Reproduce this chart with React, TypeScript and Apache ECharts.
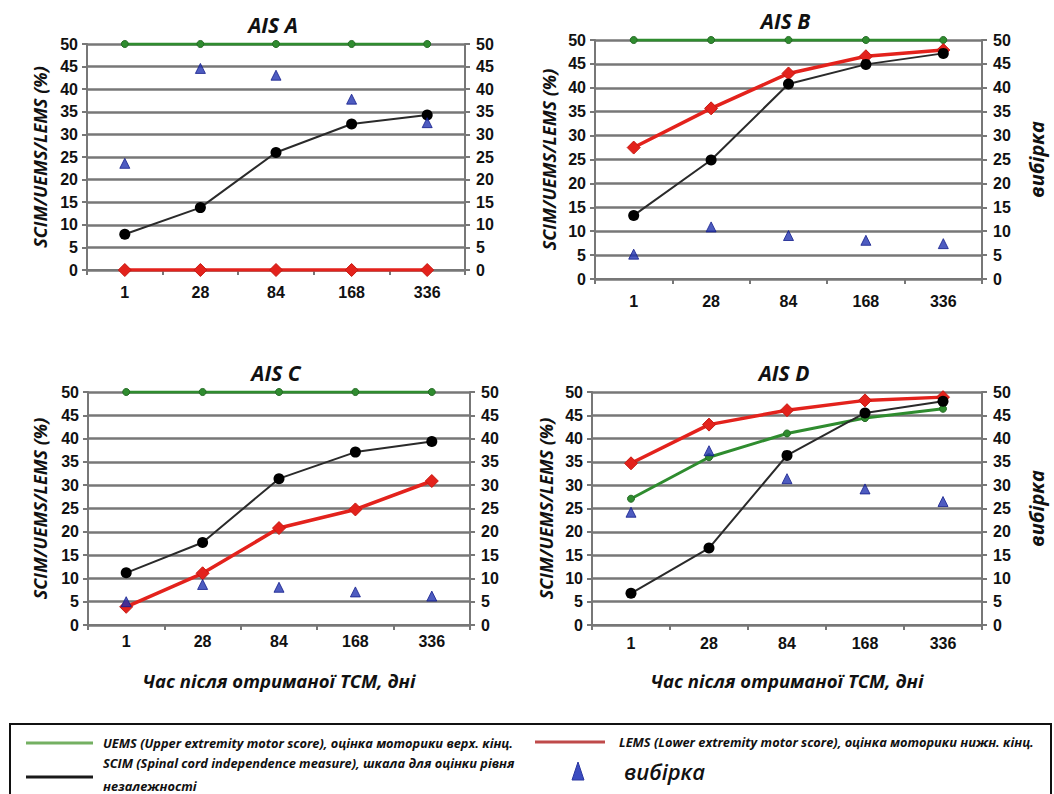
import React, { useEffect, useRef } from 'react';
import * as echarts from 'echarts';

const days = ['1', '28', '84', '168', '336'];
const panelTitles = ['AIS A', 'AIS B', 'AIS C', 'AIS D'];
const yTicks = { min: 0, max: 50, interval: 5 };

const uemsA = [50, 50, 50, 50, 50];
const lemsA = [0, 0, 0, 0, 0];
const scimA = [7.9, 13.8, 26, 32.3, 34.3];
const sampleA = [23.6, 44.6, 43.1, 37.8, 32.6];

const uemsB = [50, 50, 50, 50, 50];
const lemsB = [27.5, 35.7, 43, 46.6, 47.9];
const scimB = [13.3, 24.9, 40.8, 44.9, 47.2];
const sampleB = [5.2, 10.9, 9.1, 8.1, 7.4];

const uemsC = [50, 50, 50, 50, 50];
const lemsC = [3.9, 11.1, 20.8, 24.8, 30.9];
const scimC = [11.2, 17.7, 31.4, 37.1, 39.4];
const sampleC = [5, 8.7, 8.1, 7.1, 6.2];

const uemsD = [27.1, 36, 41.1, 44.4, 46.4];
const lemsD = [34.7, 43, 46.1, 48.2, 48.9];
const scimD = [6.8, 16.5, 36.4, 45.5, 48];
const sampleD = [24.2, 37.4, 31.4, 29.2, 26.5];

const yName = 'SCIM/UEMS/LEMS (%)';
const y2Name = 'вибірка';
const xName = 'Час після отриманої ТСМ, дні';

const legendUems = 'UEMS (Upper extremity motor score), оцінка моторики верх. кінц.';
const legendLems = 'LEMS (Lower extremity motor score), оцінка моторики нижн. кінц.';
const legendScim1 = 'SCIM (Spinal cord independence measure), шкала для оцінки рівня';
const legendScim2 = 'незалежності';
const legendSample = 'вибірка';

const panels = [
  { uems: uemsA, lems: lemsA, scim: scimA, sample: sampleA },
  { uems: uemsB, lems: lemsB, scim: scimB, sample: sampleB },
  { uems: uemsC, lems: lemsC, scim: scimC, sample: sampleC },
  { uems: uemsD, lems: lemsD, scim: scimD, sample: sampleD },
];

const gridBoxes = [
  { left: 87, top: 44, width: 378, height: 226 },
  { left: 595, top: 40, width: 387, height: 239 },
  { left: 88, top: 392, width: 382, height: 233 },
  { left: 592, top: 392, width: 390, height: 233 },
];
const xLabelMargins = [14, 14, 8, 10];
const yNameGaps = [38, 37, 39, 37];
const showRightName = [false, true, false, true];
const showXName = [false, false, true, true];

const GREEN = '#2f8c2f';
const RED = '#e3221c';
const BLACK = '#111111';
const BLUE = '#141e8c';
const GRIDC = '#777777';

const titleFont = '"Open Sans", sans-serif';
const tickFont = '"Liberation Sans", Arial, sans-serif';

export default function App() {
  const ref = useRef<HTMLDivElement>(null);
  useEffect(() => {
    if (!ref.current) return;
    const chart = echarts.init(ref.current, null, { renderer: 'svg' });
    const grid: any[] = [];
    const xAxis: any[] = [];
    const yAxis: any[] = [];
    const series: any[] = [];
    const graphic: any[] = [];

    gridBoxes.forEach((g, i) => {
      grid.push({ ...g, containLabel: false });
      xAxis.push({
        type: 'category',
        gridIndex: i,
        data: days,
        boundaryGap: true,
        axisLine: { lineStyle: { color: GRIDC, width: 2 } },
        axisTick: { show: true, length: 5, lineStyle: { color: GRIDC, width: 2 } },
        axisLabel: { color: BLACK, fontFamily: tickFont, fontWeight: 'bold', fontSize: 16, margin: xLabelMargins[i] },
        name: showXName[i] ? xName : '',
        nameLocation: 'middle',
        nameGap: 46,
        nameTextStyle: { fontFamily: titleFont, fontStyle: 'italic', fontWeight: 'bold', fontSize: 18.5, color: BLACK },
      });
      const baseY = {
        type: 'value',
        gridIndex: i,
        ...yTicks,
        axisLine: { show: true, lineStyle: { color: GRIDC, width: 2 } },
        axisTick: { show: true, length: 5, lineStyle: { color: GRIDC, width: 2 } },
        axisLabel: { color: BLACK, fontFamily: tickFont, fontWeight: 'bold', fontSize: 16 },
        nameLocation: 'middle',
        nameRotate: 90,
        nameTextStyle: { fontFamily: titleFont, fontStyle: 'italic', fontWeight: 'bold', fontSize: 18, color: BLACK },
      };
      yAxis.push({
        ...baseY,
        position: 'left',
        name: yName,
        nameGap: yNameGaps[i],
        axisLabel: { ...baseY.axisLabel, margin: 9 },
        splitLine: { show: true, lineStyle: { color: GRIDC, width: 2.5 } },
      });
      yAxis.push({
        ...baseY,
        position: 'right',
        name: showRightName[i] ? y2Name : '',
        nameGap: 44,
        nameTextStyle: { ...baseY.nameTextStyle, fontSize: 20 },
        axisLabel: { ...baseY.axisLabel, margin: 11 },
        splitLine: { show: false },
      });
      const p = panels[i];
      series.push({
        type: 'line', name: 'UEMS', xAxisIndex: i, yAxisIndex: i * 2, data: p.uems,
        lineStyle: { color: GREEN, width: 3 }, itemStyle: { color: GREEN, borderColor: '#256b25', borderWidth: 1 },
        symbol: 'circle', symbolSize: 7, z: 3,
      });
      series.push({
        type: 'line', name: 'LEMS', xAxisIndex: i, yAxisIndex: i * 2, data: p.lems,
        lineStyle: { color: RED, width: 3.5 }, itemStyle: { color: RED, borderColor: '#c81810', borderWidth: 1 },
        symbol: 'diamond', symbolSize: 13, z: 4,
      });
      series.push({
        type: 'line', name: 'SCIM', xAxisIndex: i, yAxisIndex: i * 2, data: p.scim,
        lineStyle: { color: '#2a2a2a', width: 2 }, itemStyle: { color: '#000' },
        symbol: 'circle', symbolSize: 11, z: 5,
      });
      series.push({
        type: 'scatter', name: 'вибірка', xAxisIndex: i, yAxisIndex: i * 2 + 1, data: p.sample,
        itemStyle: { color: '#2233b0', borderColor: BLUE, borderWidth: 1 },
        symbol: 'triangle', symbolSize: [10, 10], z: 6,
      });
      graphic.push({
        type: 'text',
        x: g.left + g.width / 2 - 3,
        y: g.top - 19,
        style: {
          text: panelTitles[i], fill: BLACK, textAlign: 'center', textVerticalAlign: 'middle',
          font: `italic bold 21px ${titleFont}`,
        },
      });
    });

    // Legend box
    const legendFontSmall = `italic bold 12.8px ${titleFont}`;
    graphic.push(
      { type: 'rect', shape: { x: 10, y: 724, width: 1041, height: 90 }, style: { fill: '#fff', stroke: '#111', lineWidth: 2 } },
      { type: 'line', shape: { x1: 26, y1: 743, x2: 93, y2: 743 }, style: { stroke: '#74b062', lineWidth: 3 } },
      { type: 'text', x: 103, y: 743, style: { text: legendUems, font: legendFontSmall, fill: BLACK, textVerticalAlign: 'middle' } },
      { type: 'line', shape: { x1: 535, y1: 742, x2: 605, y2: 742 }, style: { stroke: '#bf4a4a', lineWidth: 3 } },
      { type: 'text', x: 619, y: 742, style: { text: legendLems, font: legendFontSmall, fill: BLACK, textVerticalAlign: 'middle' } },
      { type: 'line', shape: { x1: 26, y1: 777, x2: 93, y2: 777 }, style: { stroke: '#1a1a1a', lineWidth: 3 } },
      { type: 'text', x: 103, y: 763, style: { text: legendScim1, font: legendFontSmall, fill: BLACK, textVerticalAlign: 'middle' } },
      { type: 'text', x: 103, y: 786, style: { text: legendScim2, font: legendFontSmall, fill: BLACK, textVerticalAlign: 'middle' } },
      { type: 'polygon', shape: { points: [[578, 762], [584, 780], [572, 780]] }, style: { fill: '#3b4cc0', stroke: '#2a36a0', lineWidth: 1 } },
      { type: 'text', x: 624, y: 771, style: { text: legendSample, font: `italic 600 22px ${titleFont}`, fill: BLACK, textVerticalAlign: 'middle' } },
    );

    chart.setOption({
      animation: false,
      backgroundColor: '#fff',
      grid,
      xAxis,
      yAxis,
      series,
      graphic,
    });
    return () => chart.dispose();
  }, []);
  return <div ref={ref} style={{ position: 'absolute', left: 0, top: 0, width: 1054, height: 794 }} />;
}
